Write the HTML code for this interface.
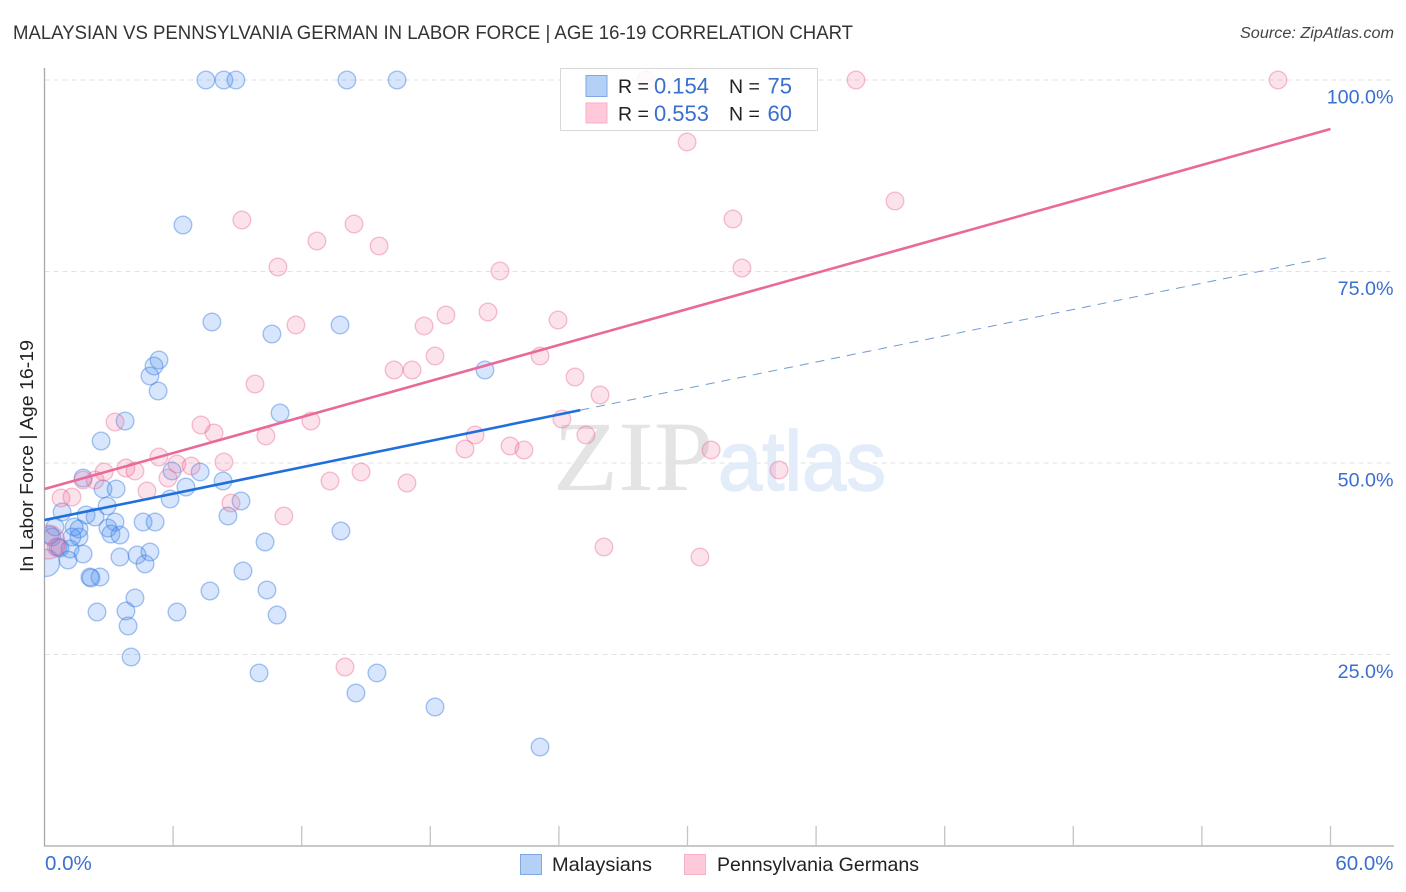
<!DOCTYPE html>
<html lang="en">
<head>
<meta charset="utf-8">
<title>Malaysian vs Pennsylvania German in Labor Force | Age 16-19 Correlation Chart</title>
<style>
html,body{margin:0;padding:0;background:#fff;width:1406px;height:892px;overflow:hidden}
svg{display:block}
text{font-family:"Liberation Sans",sans-serif}
</style>
</head>
<body>
<svg id="chart" xmlns="http://www.w3.org/2000/svg" width="1406" height="892" viewBox="0 0 1406 892">
  <defs><clipPath id="plot-clip"><rect x="44.5" y="60" width="1350" height="786"/></clipPath></defs>
  <rect width="1406" height="892" fill="#fff"/>
  <text x="13" y="39" font-size="19" fill="#333" textLength="840" lengthAdjust="spacingAndGlyphs">MALAYSIAN VS PENNSYLVANIA GERMAN IN LABOR FORCE | AGE 16-19 CORRELATION CHART</text>
  <text x="1394" y="38" font-size="15.5" font-style="italic" fill="#444" text-anchor="end" textLength="154" lengthAdjust="spacingAndGlyphs">Source: ZipAtlas.com</text>
  <g id="grid"></g>
  <g>
    <text x="553" y="490" font-size="100" fill="#e4e4e4" style="font-family:'Liberation Serif',serif" textLength="160" lengthAdjust="spacingAndGlyphs">ZIP</text>
    <text x="718" y="490" font-size="84" fill="#e3ecf9" stroke="#e3ecf9" stroke-width="1.5" textLength="168" lengthAdjust="spacingAndGlyphs">atlas</text>
  </g>
  <g id="axes"></g>
  <g clip-path="url(#plot-clip)">
    <g id="dots-blue"></g>
    <g id="dots-pink"></g>
  </g>
  <g id="trends"></g>
  <text transform="translate(33,572) rotate(-90)" font-size="18.5" fill="#222" textLength="232" lengthAdjust="spacingAndGlyphs">In Labor Force | Age 16-19</text>
  <g id="tick-labels"></g>
  <g>
    <rect x="560.5" y="68.5" width="257" height="62" fill="#fff" fill-opacity="0.85" stroke="#d8d8d8" stroke-width="1"/>
    <rect x="586" y="75.5" width="21" height="21" fill="#b5d0f6" stroke="#7fa9e0" stroke-width="1"/>
    <rect x="586" y="103" width="21" height="20" fill="#ffc9da" stroke="#f7b0c8" stroke-width="1"/>
    <g font-size="19.5">
      <text x="618" y="93" fill="#222">R =</text>
      <text x="709" y="93.5" fill="#3a6fd0" font-size="22" text-anchor="end">0.154</text>
      <text x="729" y="93" fill="#222">N =</text>
      <text x="792" y="93.5" fill="#3a6fd0" font-size="22" text-anchor="end">75</text>
      <text x="618" y="120.5" fill="#222">R =</text>
      <text x="709" y="121" fill="#3a6fd0" font-size="22" text-anchor="end">0.553</text>
      <text x="729" y="120.5" fill="#222">N =</text>
      <text x="792" y="121" fill="#3a6fd0" font-size="22" text-anchor="end">60</text>
    </g>
  </g>
  <g>
    <rect x="520.5" y="854.5" width="21" height="20" fill="#b5d0f6" stroke="#7fa9e0" stroke-width="1"/>
    <text x="552" y="871" font-size="19.5" fill="#222" textLength="100" lengthAdjust="spacingAndGlyphs">Malaysians</text>
    <rect x="684.5" y="854.5" width="21" height="20" fill="#ffc9da" stroke="#f7b0c8" stroke-width="1"/>
    <text x="717" y="871" font-size="19.5" fill="#222" textLength="202" lengthAdjust="spacingAndGlyphs">Pennsylvania Germans</text>
  </g>
</svg>
<script>
// ---- Chart data (percent values) ----
const yTickValues = [100, 75, 50, 25];
const yTickLabels = ["100.0%", "75.0%", "50.0%", "25.0%"];
const xTickValues = [0, 6, 12, 18, 24, 30, 36, 42, 48, 54, 60];
const xEndLabels = ["0.0%", "60.0%"];

const malaysiansX = [7.53,8.37,8.93,14.11,16.45,6.46,7.81,10.61,13.79,5.34,5.11,4.92,5.30,20.55,10.99,3.76,2.64,1.80,5.95,7.26,2.73,3.34,6.60,8.33,5.86,2.92,0.82,1.94,2.36,9.17,8.56,3.29,4.60,5.16,2.96,3.10,3.52,1.61,1.38,1.61,1.28,0.49,0.26,0.35,10.29,0.63,0.72,1.19,1.80,1.10,3.52,4.32,4.92,4.69,9.26,2.12,2.17,2.59,7.72,10.38,4.22,2.45,3.80,6.18,10.85,3.90,4.04,10.01,15.51,14.53,18.22,23.12,13.83];
const malaysiansY = [100,100,100,100,100,81.07,68.41,66.84,68.02,63.45,62.66,61.36,59.40,62.14,56.53,55.48,52.87,48.04,48.96,48.83,46.61,46.61,46.87,47.65,45.30,44.39,43.60,43.21,42.95,45.04,43.08,42.30,42.30,42.30,41.51,40.73,40.60,41.38,41.65,40.34,40.34,41.65,40.60,40.34,39.69,39.03,38.90,38.77,38.12,37.34,37.73,37.99,38.38,36.82,35.90,35.12,34.99,35.12,33.29,33.42,32.38,30.55,30.68,30.55,30.16,28.72,24.67,22.59,22.59,19.97,18.15,12.92,41.12];
const malaysiansLargeX = [0.07];
const malaysiansLargeY = [36.95];

const pennsylvaniaX = [28.06,37.86,57.55,29.98,39.68,32.12,9.21,14.44,12.71,15.61,32.54,10.89,21.25,11.73,17.71,18.73,20.69,23.96,18.22,23.12,16.31,17.15,24.75,9.82,25.92,7.30,12.43,3.29,7.91,24.14,10.33,25.26,20.09,19.62,21.72,22.37,31.10,5.34,8.37,6.18,6.84,3.80,4.22,2.78,14.77,34.27,13.32,16.91,5.76,4.78,2.36,0.77,1.28,8.70,11.17,26.10,30.58,14.02,0.54,1.80];
const pennsylvaniaY = [100,100,100,91.91,84.20,81.85,81.72,81.20,78.98,78.33,75.46,75.59,75.07,68.02,67.89,69.32,69.71,68.67,63.97,63.97,62.14,62.14,61.23,60.31,58.88,54.96,55.48,55.35,53.92,55.74,53.53,53.66,53.66,51.83,52.22,51.70,51.70,50.78,50.13,49.87,49.61,49.35,48.96,48.83,48.83,49.09,47.65,47.39,48.04,46.35,47.78,45.43,45.56,44.78,43.08,39.03,37.73,23.37,39.03,47.78];
const pennsylvaniaLargeX = [0.16];
const pennsylvaniaLargeY = [39.69];

const blueTrendX = [0, 25, 60];
const blueTrendY = [42.55, 56.9, 76.9];
const pinkTrendX = [0, 60];
const pinkTrendY = [46.6, 93.6];

// ---- Axis functions ----
const X0 = 44.5, X1 = 1330.5, Y0 = 846, Y100 = 80;
function xScale(v){ return X0 + (X1 - X0) * v / 60; }
function yScale(v){ return Y0 - (Y0 - Y100) * v / 100; }

const NS = "http://www.w3.org/2000/svg";
function make(tag, parent, attrs, txt){
  const e = document.createElementNS(NS, tag);
  for (const k in attrs) e.setAttribute(k, attrs[k]);
  if (txt !== undefined) e.textContent = txt;
  parent.appendChild(e);
  return e;
}

// Gridlines
const gridG = document.getElementById("grid");
yTickValues.forEach(function(v){
  const el = make("line", gridG, {x1:X0, x2:1394, y1:yScale(v), y2:yScale(v), stroke:"#e2e2e2", "stroke-width":1, "stroke-dasharray":"5 4"});
  
  
});

// Axes
const axesG = document.getElementById("axes");
const yAxisLine = make("line", axesG, {x1:44.5, x2:44.5, y1:68, y2:846, stroke:"#a8a8a8", "stroke-width":1.3});


const xAxisLine = make("line", axesG, {x1:44, x2:1394, y1:846, y2:846, stroke:"#a8a8a8", "stroke-width":1.3});


xTickValues.slice(1).forEach(function(v){
  const t = make("line", axesG, {x1:xScale(v), x2:xScale(v), y1:826, y2:846, stroke:"#c4c4c4", "stroke-width":1.3});
  
  
});

// Points
function drawDots(group, xs, ys, r, fill, stroke, fillOp, strokeOp, name){
  xs.forEach(function(x, i){
    const c = make("circle", group, {cx:xScale(x), cy:yScale(ys[i]), r:r, fill:fill, "fill-opacity":fillOp, stroke:stroke, "stroke-opacity":strokeOp, "stroke-width":1.4});
    
    
  });
}
const blueG = document.getElementById("dots-blue");
const pinkG = document.getElementById("dots-pink");
drawDots(blueG, malaysiansLargeX, malaysiansLargeY, 13.5, "#4b8ef0", "#3f7fe0", 0.22, 0.45, "malaysians-point");
drawDots(blueG, malaysiansX, malaysiansY, 8.8, "#4b8ef0", "#3f7fe0", 0.22, 0.45, "malaysians-point");
drawDots(pinkG, pennsylvaniaLargeX, pennsylvaniaLargeY, 17, "#f06f9c", "#e8608c", 0.2, 0.38, "pennsylvania-germans-point");
drawDots(pinkG, pennsylvaniaX, pennsylvaniaY, 8.8, "#f06f9c", "#e8608c", 0.2, 0.38, "pennsylvania-germans-point");

// Trend lines
const trendG = document.getElementById("trends");
const blueDash = make("line", trendG, {x1:xScale(blueTrendX[1]), y1:yScale(blueTrendY[1]), x2:xScale(blueTrendX[2]), y2:yScale(blueTrendY[2]), stroke:"#3f78c8", "stroke-opacity":0.75, "stroke-width":1, "stroke-dasharray":"9 7"});


const blueSolid = make("line", trendG, {x1:xScale(blueTrendX[0]), y1:yScale(blueTrendY[0]), x2:xScale(blueTrendX[1]), y2:yScale(blueTrendY[1]), stroke:"#1f6fdc", "stroke-width":2.6});


const pinkSolid = make("line", trendG, {x1:xScale(pinkTrendX[0]), y1:yScale(pinkTrendY[0]), x2:xScale(pinkTrendX[1]), y2:yScale(pinkTrendY[1]), stroke:"#e8699a", "stroke-width":2.6});



// Tick labels
const labelsG = document.getElementById("tick-labels");
yTickValues.forEach(function(v, i){
  const t = make("text", labelsG, {x:1393.5, y:yScale(v)+23.5, "font-size":19.7, fill:"#3a6fd0", "text-anchor":"end"}, yTickLabels[i]);
  
  
});
const xLabelLeft = make("text", labelsG, {x:45, y:870, "font-size":20.5, fill:"#3a6fd0"}, xEndLabels[0]);


const xLabelRight = make("text", labelsG, {x:1393.5, y:870, "font-size":20.5, fill:"#3a6fd0", "text-anchor":"end"}, xEndLabels[1]);


</script>
</body>
</html>
